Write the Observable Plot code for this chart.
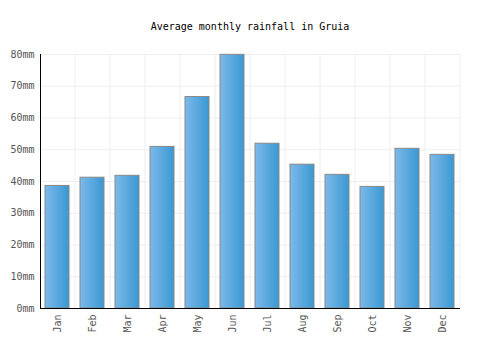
<!DOCTYPE html>
<html>
<head>
<meta charset="utf-8">
<script src="https://cdn.jsdelivr.net/npm/d3@7"></script>
<script src="https://cdn.jsdelivr.net/npm/@observablehq/plot@0.6"></script>
<style>
  body { margin: 0; background: #fff; }
  #title { width: 500px; height: 40px; box-sizing: border-box; padding-top: 20px; text-align: center;
    font: 10px "DejaVu Sans Mono", monospace; line-height: 14px; color: #000; }
</style>
</head>
<body>
<div id="title">Average monthly rainfall in Gruia</div>
<div id="chart"></div>
<script>
const months = ["Jan","Feb","Mar","Apr","May","Jun","Jul","Aug","Sep","Oct","Nov","Dec"];
const rainfall = [38.6, 41.2, 41.8, 50.9, 66.6, 79.9, 51.9, 45.3, 42.1, 38.3, 50.3, 48.4];
const yTicks = [0, 10, 20, 30, 40, 50, 60, 70, 80];

const data = months.map((m, i) => ({month: m, value: rainfall[i]}));

const plot = Plot.plot({
  width: 500,
  height: 310,
  marginTop: 14,
  marginBottom: 42,
  marginLeft: 40,
  marginRight: 40,
  style: {fontFamily: "'DejaVu Sans Mono', monospace", fontSize: "10px", color: "#555", background: "#fff"},
  x: {domain: months, paddingInner: 0.31, paddingOuter: 0.155, label: null},
  y: {domain: [0, 80], label: null},
  marks: [
    Plot.gridY(yTicks, {stroke: "#eee", strokeOpacity: 1}),
    Plot.ruleX(months, {x: d => d, dx: 17.5, stroke: "#eee", strokeOpacity: 1}),
    Plot.barY(data, {x: "month", y: "value", fill: "url(#barGrad)", stroke: "#888", strokeWidth: 1}),
    Plot.axisY(yTicks, {tickSize: 0, tickPadding: 6, tickFormat: d => d + "mm", fill: "#555"}),
    Plot.axisX({tickSize: 0, tickPadding: 6, tickRotate: -90, fill: "#555"}),
    Plot.frame({anchor: "left", stroke: "#000"}),
    Plot.ruleY([0], {stroke: "#000"})
  ]
});

const ns = "http://www.w3.org/2000/svg";
const defs = document.createElementNS(ns, "defs");
const grad = document.createElementNS(ns, "linearGradient");
grad.setAttribute("id", "barGrad");
grad.setAttribute("x1", "0"); grad.setAttribute("y1", "0");
grad.setAttribute("x2", "1"); grad.setAttribute("y2", "0");
[["0%", "#7cb9ea"], ["100%", "#3a98d2"]].forEach(([o, c]) => {
  const s = document.createElementNS(ns, "stop");
  s.setAttribute("offset", o); s.setAttribute("stop-color", c);
  grad.appendChild(s);
});
defs.appendChild(grad);
plot.insertBefore(defs, plot.firstChild);
document.getElementById("chart").appendChild(plot);
</script>
</body>
</html>
